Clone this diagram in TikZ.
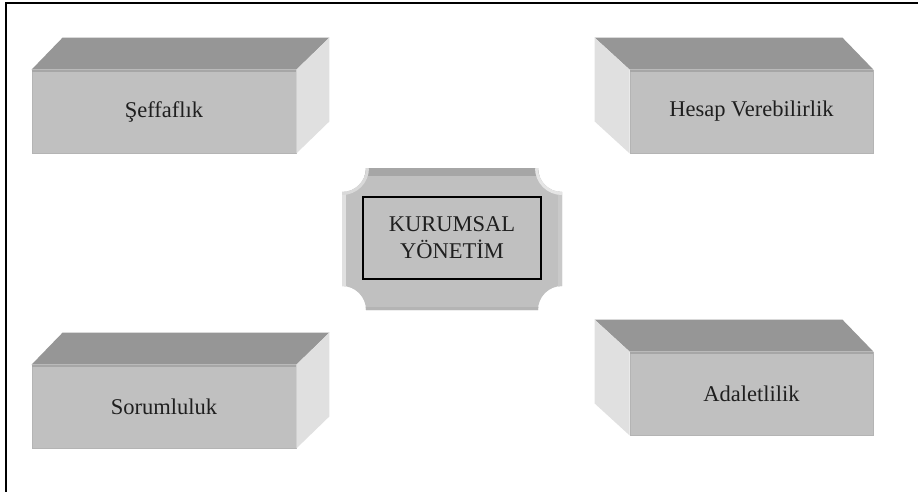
\documentclass[tikz,border=0pt]{standalone}
\usepackage{fontspec}
\setmainfont{Liberation Serif}
\definecolor{frontc}{HTML}{C0C0C0}
\definecolor{topc}{HTML}{969696}
\definecolor{topedge}{HTML}{A6A6A6}
\definecolor{sidec}{HTML}{E0E0E0}
\definecolor{edgec}{HTML}{B4B4B4}
\begin{document}
\begin{tikzpicture}[x=1pt,y=-1pt,
  face/.style={fill=frontc, draw=edgec, line width=0.8pt, inner sep=0pt,
    minimum height=83pt, text=black!88,
    font=\fontsize{22.5}{27}\selectfont},
  topface/.style={fill=topc},
  sideface/.style={fill=sidec},
  plaquetxt/.style={draw=black, line width=1.6pt, inner sep=0pt, align=center,
    minimum width=178pt, minimum height=82pt, text=black!88,
    font=\fontsize{22.5}{27}\selectfont}
]
\useasboundingbox (0,0) rectangle (918,492);
\fill[white] (0,0) rectangle (918,492);
\draw[line width=2pt] (6,492) -- (6,3) -- (918,3);

% box 1
\node[face, minimum width=264pt] (b1) at (164,111.5) {Şeffaflık};
\fill[topface] (b1.north west) -- ([shift={(31,-32)}]b1.north west) -- ([shift={(33,-32)}]b1.north east) -- (b1.north east) -- cycle;
\draw[topedge, line width=2pt] ([yshift=-1pt]b1.north west) -- ([yshift=-1pt]b1.north east);
\fill[sideface] (b1.north east) -- ([shift={(33,-32)}]b1.north east) -- ([shift={(33,-32)}]b1.south east) -- (b1.south east) -- cycle;

% box 2
\node[face, minimum width=243pt] (b2) at (751.5,111.5) {Hesap Verebilirlik};
\fill[topface] (b2.north west) -- ([shift={(-35,-32)}]b2.north west) -- ([shift={(-31,-32)}]b2.north east) -- (b2.north east) -- cycle;
\draw[topedge, line width=2pt] ([yshift=-1pt]b2.north west) -- ([yshift=-1pt]b2.north east);
\fill[sideface] (b2.north west) -- ([shift={(-35,-32)}]b2.north west) -- ([shift={(-35,-32)}]b2.south west) -- (b2.south west) -- cycle;

% box 3
\node[face, minimum width=264pt] (b3) at (164,406.5) {Sorumluluk};
\fill[topface] (b3.north west) -- ([shift={(31,-32)}]b3.north west) -- ([shift={(33,-32)}]b3.north east) -- (b3.north east) -- cycle;
\draw[topedge, line width=2pt] ([yshift=-1pt]b3.north west) -- ([yshift=-1pt]b3.north east);
\fill[sideface] (b3.north east) -- ([shift={(33,-32)}]b3.north east) -- ([shift={(33,-32)}]b3.south east) -- (b3.south east) -- cycle;

% box 4
\node[face, minimum width=243pt] (b4) at (751.5,393.5) {Adaletlilik};
\fill[topface] (b4.north west) -- ([shift={(-35,-32)}]b4.north west) -- ([shift={(-31,-32)}]b4.north east) -- (b4.north east) -- cycle;
\draw[topedge, line width=2pt] ([yshift=-1pt]b4.north west) -- ([yshift=-1pt]b4.north east);
\fill[sideface] (b4.north west) -- ([shift={(-35,-32)}]b4.north west) -- ([shift={(-35,-32)}]b4.south west) -- (b4.south west) -- cycle;

% central plaque
\begin{scope}
\clip (366,168) -- (538,168) arc (180:90:24) -- (562,286) arc (270:180:24)
  -- (366,310) arc (0:-90:24) -- (342,192) arc (90:0:24) -- cycle;
\fill[frontc] (330,160) rectangle (570,320);
\fill[topedge] (330,160) rectangle (570,176);
\fill[sidec] (330,160) rectangle (346,320);
\fill[frontc!85!white] (558,160) rectangle (570,320);
\fill[edgec] (330,307) rectangle (570,320);
\draw[white!70!gray, line width=6pt] (366,168) arc (0:90:24);
\draw[white!80!gray, line width=6pt] (562,192) arc (90:180:24);
\end{scope}
\node[plaquetxt] (c) at (452,238) {KURUMSAL\\YÖNETİM};
\end{tikzpicture}
\end{document}
